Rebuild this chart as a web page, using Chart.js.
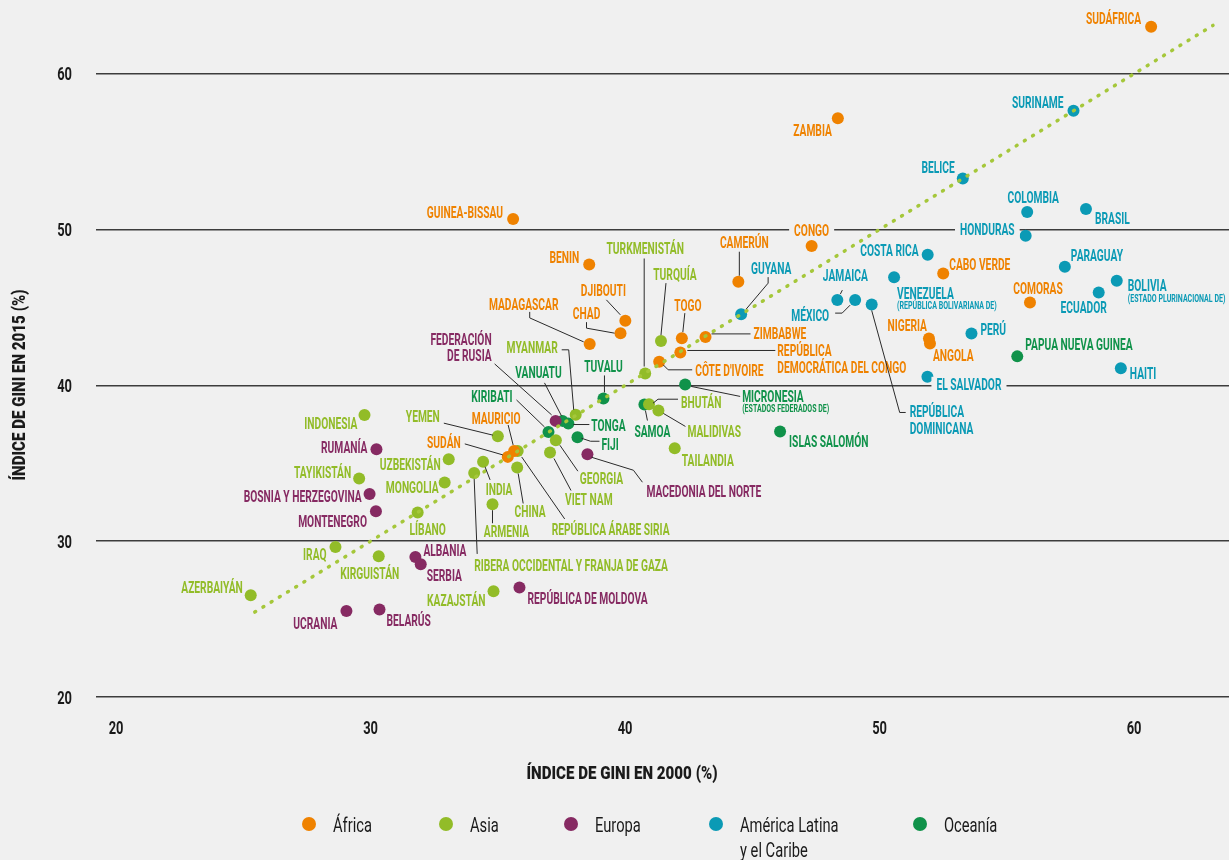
<!DOCTYPE html>
<html>
<head>
<meta charset="utf-8">
<script src="https://cdn.jsdelivr.net/npm/chart.js@4.4.1/dist/chart.umd.min.js"></script>
<style>
  html, body { margin: 0; padding: 0; background: #f0f0f0; }
  #wrap { position: relative; width: 1229px; height: 860px; }
</style>
</head>
<body>
<div id="wrap"><canvas id="gini"></canvas></div>
<script>
// ── Data (Gini 2000 vs Gini 2015, %) ─────────────────────────────────────────
const regionLabels = ["África", "Asia", "Europa", "América Latina\ny el Caribe", "Oceanía"];
const regionColors = ["#ef8200", "#92bc28", "#862a62", "#0b9ab5", "#10924a"];

const africaNames = ["SUDÁFRICA", "ZAMBIA", "GUINEA-BISSAU", "CONGO", "BENIN", "CAMERÚN", "CABO VERDE",
  "COMORAS", "NIGERIA", "ANGOLA", "DJIBOUTI", "CHAD", "MADAGASCAR", "TOGO", "ZIMBABWE",
  "REPÚBLICA DEMOCRÁTICA DEL CONGO", "CÔTE D'IVOIRE", "MAURICIO", "SUDÁN"];
const africa2000 = [60.67, 48.36, 35.60, 47.33, 38.59, 44.45, 52.50, 55.91, 51.94, 51.98, 40.01, 39.82,
  38.61, 42.23, 43.16, 42.17, 41.34, 35.64, 35.39];
const africa2015 = [63.02, 57.14, 50.67, 48.94, 47.76, 46.65, 47.18, 45.32, 43.01, 42.69, 44.14, 43.35,
  42.66, 43.03, 43.11, 42.11, 41.51, 35.79, 35.41];

const asiaNames = ["TURKMENISTÁN", "TURQUÍA", "MYANMAR", "YEMEN", "GEORGIA", "VIET NAM",
  "REPÚBLICA ÁRABE SIRIA", "CHINA", "INDIA", "RIBERA OCCIDENTAL Y FRANJA DE GAZA", "ARMENIA",
  "UZBEKISTÁN", "MONGOLIA", "LÍBANO", "INDONESIA", "TAYIKISTÁN", "IRAQ", "KIRGUISTÁN", "KAZAJSTÁN",
  "AZERBAIYÁN", "BHUTÁN", "MALIDIVAS", "TAILANDIA"];
const asia2000 = [40.79, 41.41, 38.06, 35.00, 37.28, 37.05, 35.78, 35.76, 34.42, 34.07, 34.79,
  33.07, 32.91, 31.85, 29.76, 29.55, 28.62, 30.32, 34.83, 25.29, 40.94, 41.31, 41.95];
const asia2015 = [40.76, 42.84, 38.11, 36.74, 36.48, 35.69, 35.79, 34.73, 35.09, 34.38, 32.37,
  35.26, 33.77, 31.84, 38.09, 34.02, 29.63, 29.03, 26.79, 26.53, 38.79, 38.39, 35.97];

const europeNames = ["FEDERACIÓN DE RUSIA", "MACEDONIA DEL NORTE", "RUMANÍA", "BOSNIA Y HERZEGOVINA",
  "MONTENEGRO", "ALBANIA", "SERBIA", "UCRANIA", "BELARÚS", "REPÚBLICA DE MOLDOVA"];
const europe2000 = [37.27, 38.52, 30.23, 29.96, 30.21, 31.76, 31.97, 29.05, 30.35, 35.85];
const europe2015 = [37.72, 35.58, 35.90, 33.03, 31.92, 28.99, 28.52, 25.52, 25.61, 27.02];

const latamNames = ["SURINAME", "BELICE", "COLOMBIA", "BRASIL", "HONDURAS", "COSTA RICA", "PARAGUAY",
  "BOLIVIA", "ECUADOR", "VENEZUELA", "JAMAICA", "MÉXICO", "REPÚBLICA DOMINICANA", "GUYANA", "PERÚ",
  "EL SALVADOR", "HAITI"];
const latam2000 = [57.62, 53.27, 55.80, 58.11, 55.74, 51.89, 57.28, 59.32, 58.61, 50.57, 48.34, 49.04,
  49.69, 44.56, 53.61, 51.88, 59.48];
const latam2015 = [57.62, 53.28, 51.12, 51.31, 49.60, 48.38, 47.61, 46.71, 45.96, 46.93, 45.47, 45.47,
  45.19, 44.57, 43.33, 40.55, 41.10];

const oceaniaNames = ["TUVALU", "MICRONESIA", "SAMOA", "ISLAS SALOMÓN", "PAPUA NUEVA GUINEA",
  "KIRIBATI", "VANUATU", "TONGA", "FIJI"];
const oceania2000 = [39.15, 42.36, 40.76, 46.09, 55.41, 36.99, 37.54, 37.77, 38.13];
const oceania2015 = [39.16, 40.06, 38.77, 37.04, 41.86, 37.01, 37.72, 37.55, 36.67];

// 45° reference line (same Gini in both years)
const trendX = [25.45, 63.1];
const trendY = [25.45, 63.1];

const xTitle = "ÍNDICE DE GINI EN 2000 (%)";
const yTitle = "ÍNDICE DE GINI EN 2015 (%)";

// ── Label placement (pixel offsets from each point) ──────────────────────────
const labelLayout = {
  "SUDÁFRICA": { dx: -10, dy: -8, align: "right" },
  "ZAMBIA": { dx: -6, dy: 12, align: "right" },
  "GUINEA-BISSAU": { dx: -10, dy: -7, align: "right" },
  "CONGO": { dx: 0, dy: -16, align: "center", knock: true },
  "BENIN": { dx: -10, dy: -7, align: "right" },
  "CAMERÚN": { dx: 6, dy: -39, align: "center", leader: [[1, -30], [1, -6]] },
  "CABO VERDE": { dx: 6, dy: -9, align: "left" },
  "COMORAS": { dx: 8, dy: -14, align: "center" },
  "NIGERIA": { dx: -2, dy: -13, align: "right" },
  "ANGOLA": { dx: 3, dy: 12, align: "left" },
  "DJIBOUTI": { dx: -22, dy: -31, align: "center", leader: [[-19, -21], [-5, -6]] },
  "CHAD": { dx: -34, dy: -20, align: "center", leader: [[-34, -11], [-34, -5], [-6, 0]] },
  "MADAGASCAR": { dx: -66, dy: -40, align: "center", leader: [[-60, -32], [-60, -26], [-6, -2]] },
  "TOGO": { dx: 6, dy: -33, align: "center", leader: [[3, -25], [1, -6]] },
  "ZIMBABWE": { dx: 48, dy: -4, align: "left", leader: [[6, -3], [45, -3]] },
  "REPÚBLICA DEMOCRÁTICA DEL CONGO": { dx: 97, dy: -2, align: "left",
    lines: ["REPÚBLICA", "DEMOCRÁTICA DEL CONGO"], leader: [[7, -2], [95, -2]] },
  "CÔTE D'IVOIRE": { dx: 36, dy: 8, align: "left", leader: [[4, 3], [9, 8], [33, 8]] },
  "MAURICIO": { dx: -18, dy: -33, align: "center", leader: [[-6, -26], [-1, -6]] },
  "SUDÁN": { dx: -47, dy: -15, align: "right", leader: [[-43, -13], [-5, -2]] },

  "TURKMENISTÁN": { dx: 0, dy: -125, align: "center", leader: [[-1, -115], [-1, -7]] },
  "TURQUÍA": { dx: 14, dy: -67, align: "center", leader: [[5, -58], [0, -6]] },
  "MYANMAR": { dx: -18, dy: -67, align: "right", leader: [[-14, -65], [-7, -65], [-2, -5]] },
  "YEMEN": { dx: -58, dy: -20, align: "right", leader: [[-54, -13], [-5, -1]] },
  "GEORGIA": { dx: 24, dy: 38, align: "left", leader: [[4, 5], [22, 31]] },
  "VIET NAM": { dx: 15, dy: 47, align: "left", leader: [[4, 6], [21, 38]] },
  "REPÚBLICA ÁRABE SIRIA": { dx: 34, dy: 78, align: "left", leader: [[4, 6], [47, 68]] },
  "CHINA": { dx: 13, dy: 44, align: "center", leader: [[1, 6], [6, 36]] },
  "INDIA": { dx: 16, dy: 27, align: "center", leader: [[2, 5], [7, 18]] },
  "RIBERA OCCIDENTAL Y FRANJA DE GAZA": { dx: 0, dy: 92, align: "left", leader: [[0, 6], [3, 81]] },
  "ARMENIA": { dx: 14, dy: 27, align: "center", leader: [[0, 6], [0, 19]] },
  "UZBEKISTÁN": { dx: -8, dy: 5, align: "right" },
  "MONGOLIA": { dx: -6, dy: 5, align: "right" },
  "LÍBANO": { dx: 10, dy: 17, align: "center" },
  "INDONESIA": { dx: -7, dy: 8, align: "right" },
  "TAYIKISTÁN": { dx: -8, dy: -6, align: "right" },
  "IRAQ": { dx: -9, dy: 7, align: "right" },
  "KIRGUISTÁN": { dx: -9, dy: 17, align: "center" },
  "KAZAJSTÁN": { dx: -8, dy: 9, align: "right" },
  "AZERBAIYÁN": { dx: -8, dy: -8, align: "right" },
  "BHUTÁN": { dx: 32, dy: -2, align: "left", leader: [[4, -1], [9, -5], [29, -5]] },
  "MALIDIVAS": { dx: 29, dy: 21, align: "left", leader: [[5, 3], [27, 16]] },
  "TAILANDIA": { dx: 7, dy: 12, align: "left" },

  "FEDERACIÓN DE RUSIA": { dx: -64, dy: -82, align: "right", lines: ["FEDERACIÓN", "DE RUSIA"],
    leader: [[-61, -57], [-4, -6]] },
  "MACEDONIA DEL NORTE": { dx: 59, dy: 37, align: "left", leader: [[4, 3], [46, 16], [55, 28]] },
  "RUMANÍA": { dx: -9, dy: -2, align: "right" },
  "BOSNIA Y HERZEGOVINA": { dx: -8, dy: 2, align: "right" },
  "MONTENEGRO": { dx: -9, dy: 10, align: "right" },
  "ALBANIA": { dx: 8, dy: -7, align: "left" },
  "SERBIA": { dx: 6, dy: 11, align: "left" },
  "UCRANIA": { dx: -9, dy: 12, align: "right" },
  "BELARÚS": { dx: 7, dy: 11, align: "left" },
  "REPÚBLICA DE MOLDOVA": { dx: 8, dy: 11, align: "left" },

  "SURINAME": { dx: -10, dy: -8, align: "right" },
  "BELICE": { dx: -8, dy: -11, align: "right" },
  "COLOMBIA": { dx: 6, dy: -15, align: "center" },
  "BRASIL": { dx: 9, dy: 9, align: "left" },
  "HONDURAS": { dx: -11, dy: -6, align: "right", knock: true },
  "COSTA RICA": { dx: -9, dy: -4, align: "right" },
  "PARAGUAY": { dx: 6, dy: -11, align: "left" },
  "BOLIVIA": { dx: 11, dy: 5, align: "left", sub: "(ESTADO PLURINACIONAL DE)" },
  "ECUADOR": { dx: -15, dy: 15, align: "center" },
  "VENEZUELA": { dx: 3, dy: 16, align: "left", sub: "(REPÚBLICA BOLIVARIANA DE)" },
  "JAMAICA": { dx: 8, dy: -25, align: "center", leader: [[5, -10], [3, -6]] },
  "MÉXICO": { dx: -26, dy: 15, align: "right", leader: [[-20, 13], [-13, 13], [-5, 5]] },
  "REPÚBLICA DOMINICANA": { dx: 38, dy: 107, align: "left", lines: ["REPÚBLICA", "DOMINICANA"],
    leader: [[0, 6], [28, 108], [34, 108]] },
  "GUYANA": { dx: 30, dy: -46, align: "center", leader: [[27, -37], [27, -31], [5, -5]] },
  "PERÚ": { dx: 9, dy: -4, align: "left" },
  "EL SALVADOR": { dx: 9, dy: 8, align: "left", knock: true },
  "HAITI": { dx: 9, dy: 5, align: "left" },

  "TUVALU": { dx: 0, dy: -32, align: "center", leader: [[1, -23], [1, -6]] },
  "MICRONESIA": { dx: 57, dy: 12, align: "left", sub: "(ESTADOS FEDERADOS DE)", leader: [[6, 2], [55, 12]] },
  "SAMOA": { dx: 8, dy: 27, align: "center", leader: [[1, 6], [3, 16]] },
  "ISLAS SALOMÓN": { dx: 9, dy: 10, align: "left" },
  "PAPUA NUEVA GUINEA": { dx: 8, dy: -12, align: "left" },
  "KIRIBATI": { dx: -36, dy: -36, align: "right", leader: [[-32, -32], [-4, -5]] },
  "VANUATU": { dx: -24, dy: -49, align: "center", leader: [[-18, -38], [-1, -5]] },
  "TONGA": { dx: 23, dy: 2, align: "left", leader: [[5, 1], [21, 1]] },
  "FIJI": { dx: 24, dy: 7, align: "left", leader: [[4, 1], [13, 4], [22, 4]] }
};

const legendX = [309, 446, 571, 716, 920];
const BG = "#f0f0f0";
const INK = "#1a1a1a";

// Draws horizontally squeezed text (the source uses a condensed face)
function drawText(ctx, text, x, y, align, font, size, sx, color) {
  ctx.save();
  ctx.font = font;
  ctx.fillStyle = color;
  ctx.textAlign = align;
  ctx.textBaseline = "alphabetic";
  ctx.translate(x, y + size * 0.355);
  ctx.scale(sx, 1);
  ctx.fillText(text, 0, 0);
  ctx.restore();
}

function textWidth(ctx, text, font, sx) {
  ctx.save();
  ctx.font = font;
  const w = ctx.measureText(text).width * sx;
  ctx.restore();
  return w;
}

const LABEL_FONT = "700 16px Roboto";
const SUB_FONT = "700 11px Roboto";
const LABEL_SX = 0.64;

const labelPlugin = {
  id: "countryLabels",
  afterDatasetsDraw(chart) {
    const ctx = chart.ctx;
    chart.data.datasets.forEach((ds, di) => {
      if (!ds.names) return;
      const meta = chart.getDatasetMeta(di);
      meta.data.forEach((pt, i) => {
        const lay = labelLayout[ds.names[i]];
        if (!lay) return;
        const px = pt.x, py = pt.y;
        if (lay.leader) {
          ctx.save();
          ctx.beginPath();
          lay.leader.forEach(([lx, ly], k) => {
            if (k === 0) ctx.moveTo(px + lx, py + ly);
            else ctx.lineTo(px + lx, py + ly);
          });
          ctx.strokeStyle = "#2a2a2a";
          ctx.lineWidth = 1;
          ctx.stroke();
          ctx.restore();
        }
        const lines = lay.lines || [ds.names[i]];
        const tx = px + lay.dx;
        lines.forEach((line, k) => {
          const ty = py + lay.dy + k * 16.5;
          if (lay.knock) {
            const w = textWidth(ctx, line, LABEL_FONT, LABEL_SX);
            let left = tx;
            if (lay.align === "right") left = tx - w;
            if (lay.align === "center") left = tx - w / 2;
            ctx.fillStyle = BG;
            ctx.fillRect(left - 5, ty - 8, w + 10, 16);
          }
          drawText(ctx, line, tx, ty, lay.align, LABEL_FONT, 16, LABEL_SX, ds.backgroundColor);
        });
        if (lay.sub) {
          drawText(ctx, lay.sub, tx, py + lay.dy + 12, lay.align, SUB_FONT, 11, LABEL_SX, ds.backgroundColor);
        }
      });
    });
  },
  afterDraw(chart) {
    const ctx = chart.ctx;
    const xs = chart.scales.x, ys = chart.scales.y;
    const tickFont = "700 19px Roboto";
    ys.ticks.forEach((t) => {
      drawText(ctx, String(t.value), 72, ys.getPixelForValue(t.value), "right", tickFont, 19, 0.68, INK);
    });
    xs.ticks.forEach((t) => {
      drawText(ctx, String(t.value), xs.getPixelForValue(t.value), 727, "center", tickFont, 19, 0.68, INK);
    });
    const titleFont = "900 18px Roboto";
    drawText(ctx, xTitle, 622, 773, "center", titleFont, 18, 0.84, INK);
    ctx.save();
    ctx.translate(19, 385);
    ctx.rotate(-Math.PI / 2);
    drawText(ctx, yTitle, 0, 0, "center", titleFont, 18, 0.84, INK);
    ctx.restore();

    // legend
    chart.data.datasets.forEach((ds, di) => {
      if (!ds.names) return;
      const lx = legendX[di];
      ctx.beginPath();
      ctx.arc(lx, 824, 7, 0, Math.PI * 2);
      ctx.fillStyle = ds.backgroundColor;
      ctx.fill();
      ds.label.split("\n").forEach((line, k) => {
        drawText(ctx, line, lx + 24, 825 + k * 24.5, "left", "400 21px Roboto", 21, 0.7, INK);
      });
    });
  }
};

function regionDataset(idx, names, xs, ys) {
  return {
    label: regionLabels[idx],
    names: names,
    data: names.map((_, i) => ({ x: xs[i], y: ys[i] })),
    backgroundColor: regionColors[idx],
    borderWidth: 0,
    pointRadius: 6,
    pointHoverRadius: 6,
    order: 1
  };
}

const keepTens = (scale) => {
  scale.ticks = scale.ticks.filter((t) => Math.abs(t.value - Math.round(t.value / 10) * 10) < 1e-6);
};

new Chart(document.getElementById("gini"), {
  type: "scatter",
  data: {
    datasets: [
      regionDataset(0, africaNames, africa2000, africa2015),
      regionDataset(1, asiaNames, asia2000, asia2015),
      regionDataset(2, europeNames, europe2000, europe2015),
      regionDataset(3, latamNames, latam2000, latam2015),
      regionDataset(4, oceaniaNames, oceania2000, oceania2015),
      {
        label: "trend",
        data: trendX.map((x, i) => ({ x, y: trendY[i] })),
        showLine: true,
        pointRadius: 0,
        borderColor: "#a5c73a",
        borderWidth: 3.5,
        borderDash: [1, 8.6],
        borderCapStyle: "round",
        order: -1
      }
    ]
  },
  options: {
    responsive: true,
    maintainAspectRatio: false,
    animation: false,
    events: [],
    layout: { padding: 0, autoPadding: false },
    plugins: { legend: { display: false }, tooltip: { enabled: false } },
    scales: {
      x: {
        type: "linear",
        min: 19.21,
        max: 63.73,
        ticks: { stepSize: 10, display: false, includeBounds: false },
        grid: { display: false },
        border: { display: false },
        afterBuildTicks: keepTens,
        afterFit: (s) => { s.height = 163; }
      },
      y: {
        type: "linear",
        min: 20,
        max: 64.73,
        ticks: { stepSize: 10, display: false, includeBounds: false },
        grid: { color: "#3c3c3c", lineWidth: 1.5, drawTicks: false },
        border: { display: false },
        afterBuildTicks: keepTens,
        afterFit: (s) => { s.width = 96; }
      }
    }
  },
  plugins: [labelPlugin]
});
</script>
</body>
</html>
